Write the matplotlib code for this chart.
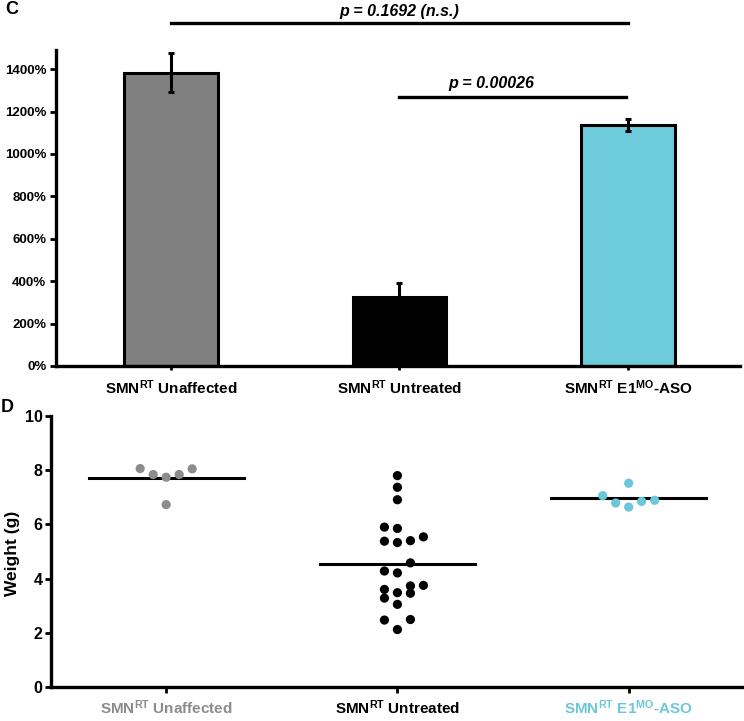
import numpy as np
import matplotlib
matplotlib.use('Agg')
from matplotlib import pyplot as plt

# Panel C: relative expression (%) per group
groups = ['SMN$^{\\mathrm{RT}}$ Unaffected',
          'SMN$^{\\mathrm{RT}}$ Untreated',
          'SMN$^{\\mathrm{RT}}$ E1$^{\\mathrm{MO}}$-ASO']
bar_means = [1383, 324, 1137]
bar_errs = [92, 66, 28]
bar_colors = ['#808080', '#000000', '#6ecbdc']

# p-value brackets: (start group, end group, label)
brackets = [(0, 2, 'p = 0.1692 (n.s.)'),
            (1, 1.99, 'p = 0.00026')]

# Panel D: body weight (g) of each animal
weight_unaffected = [8.05, 7.84, 7.74, 7.84, 8.06, 6.73]
weight_untreated = [7.80, 7.37, 6.91, 5.90, 5.85, 5.38, 5.33, 5.40, 5.54,
                    4.58, 4.28, 4.21, 3.75, 3.73, 3.60, 3.46, 3.48, 3.28,
                    3.05, 2.47, 2.49, 2.12]
weight_aso = [7.06, 6.85, 7.52, 6.64, 6.79, 6.89]
dot_colors = ['#8c8c8c', '#000000', '#6cc8d8']

plt.rcParams['font.family'] = ['Liberation Sans', 'DejaVu Sans']
plt.rcParams['font.weight'] = 'bold'
plt.rcParams['mathtext.fontset'] = 'custom'
plt.rcParams['mathtext.rm'] = 'Liberation Sans:bold'
plt.rcParams['mathtext.bf'] = 'Liberation Sans:bold'
plt.rcParams['mathtext.it'] = 'Liberation Sans:bold:italic'


def swarm_offsets(values, row_h=0.425):
    # group close values into rows, then spread each row 0, -1, +1, +2, -2 ...
    order = np.argsort(values, kind='stable')
    cols = np.zeros(len(values))
    slots = [0, -1, 1, 2, -2, 3, -3]
    row = []
    for idx in list(order) + [None]:
        if idx is not None and (not row or values[idx] - values[row[0]] <= row_h):
            row.append(idx)
            continue
        for k, r in enumerate(row):
            cols[r] = slots[k]
        row = [idx] if idx is not None else []
    return cols


fig = plt.figure(figsize=(7.44, 7.21), dpi=100)

# ---------------- panel C ----------------
axc = fig.add_axes([56 / 744, 1 - 366 / 721, 684 / 744, 316 / 721])
x = np.arange(len(groups))
axc.bar(x, bar_means, width=0.41, color=bar_colors, edgecolor='black',
        linewidth=2.2, zorder=2)
axc.errorbar(x, bar_means, yerr=bar_errs, fmt='none', ecolor='black',
             elinewidth=2.2, capsize=2, capthick=2.2, zorder=3)
axc.set_xlim(-0.503, 2.49)
axc.set_ylim(0, 1490)
axc.set_yticks(range(0, 1401, 200))
axc.set_yticklabels(['%d%%' % v for v in range(0, 1401, 200)])
axc.set_xticks(x)
axc.set_xticklabels(groups, fontsize=11, fontweight='bold')
axc.tick_params(axis='y', labelsize=9.5, width=2, length=4, pad=3)
axc.tick_params(axis='x', width=2, length=3, pad=6)
for s in ['top', 'right']:
    axc.spines[s].set_visible(False)
for s in ['left', 'bottom']:
    axc.spines[s].set_linewidth(2.4)

bracket_y = [1617, 1270]
text_y = [1672, 1330]
text_x = [1.0, 1.4]
for (a, b, lab), ly, ty, tx in zip(brackets, bracket_y, text_y, text_x):
    axc.plot([a, b], [ly, ly], color='black', lw=2.4, clip_on=False)
    axc.text(tx, ty, lab, ha='center', va='center', fontsize=11.5,
             fontweight='bold', fontstyle='italic', clip_on=False)

fig.text(12 / 744, 1 - 9 / 721, 'C', fontsize=13, fontweight='bold',
         ha='center', va='center')

# ---------------- panel D ----------------
axd = fig.add_axes([51 / 744, 1 - 687 / 721, 691 / 744, 271 / 721])
axd.set_xlim(-0.498, 2.49)
axd.set_ylim(0, 10)
fig.canvas.draw()
px_per_unit = axd.transData.transform((1, 0))[0] - axd.transData.transform((0, 0))[0]
step = 13.0 / px_per_unit

for i, vals in enumerate([weight_unaffected, weight_untreated, weight_aso]):
    vals = np.array(vals)
    xs = i + swarm_offsets(vals) * step
    axd.scatter(xs, vals, s=44, color=dot_colors[i], edgecolors='none',
                zorder=3, clip_on=False)
    m = vals.mean()
    axd.plot([i - 0.335, i + 0.335], [m, m], color='black', lw=2.2, zorder=2)

axd.set_xticks(x)
axd.set_xticklabels(groups, fontsize=11, fontweight='bold')
for lab, c in zip(axd.get_xticklabels(), dot_colors):
    lab.set_color(c)
axd.set_yticks(range(0, 11, 2))
axd.tick_params(axis='y', labelsize=11.5, width=2, length=4, pad=2)
axd.tick_params(axis='x', width=2, length=4.5, pad=4)
for s in ['top', 'right']:
    axd.spines[s].set_visible(False)
for s in ['left', 'bottom']:
    axd.spines[s].set_linewidth(2.4)

fig.text(13 / 744, 1 - 553 / 721, 'Weight (g)', fontsize=12.5,
         fontweight='bold', rotation=90, ha='center', va='center')
fig.text(7 / 744, 1 - 408 / 721, 'D', fontsize=13, fontweight='bold',
         ha='center', va='center')

fig.savefig('out.png', dpi=100)
